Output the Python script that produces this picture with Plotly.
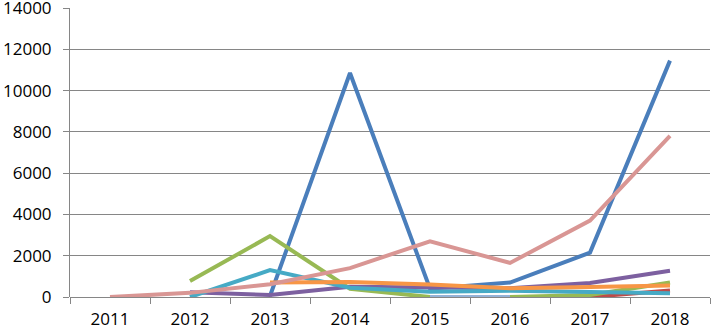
import plotly.graph_objects as go

years = [2011, 2012, 2013, 2014, 2015, 2016, 2017, 2018]
y_ticks = [0, 2000, 4000, 6000, 8000, 10000, 12000, 14000]

blue = [None, None, 50, 10850, 400, 700, 2150, 11450]
red = [None, None, None, None, None, 0, 0, 320]
green = [None, 770, 2950, 400, 0, 0, 100, 700]
purple = [None, 230, 100, 500, 450, 420, 680, 1270]
aqua = [None, 0, 1300, 450, 250, 300, 240, 180]
orange = [None, None, 700, 730, 600, 420, 480, 560]
lightblue = [None, None, None, None, 0, 0, None, None]
pink = [0, 200, 620, 1400, 2700, 1650, 3700, 7800]

series = [
    ("s1", blue, "#4A7EBB"),
    ("s2", red, "#BE4B48"),
    ("s3", green, "#98B954"),
    ("s4", purple, "#7D60A0"),
    ("s5", aqua, "#46AAC5"),
    ("s6", orange, "#F79646"),
    ("s7", lightblue, "#95B3D7"),
    ("s8", pink, "#D99694"),
]

fig = go.Figure()
for name, vals, col in series:
    fig.add_trace(go.Scatter(x=years, y=vals, mode="lines", name=name,
                             line=dict(color=col, width=4), connectgaps=False))

fig.update_layout(
    width=712, height=331,
    margin=dict(l=70, r=2, t=8, b=34),
    paper_bgcolor="white", plot_bgcolor="white",
    showlegend=False,
    font=dict(family="Open Sans", size=17, color="black"),
)
fig.update_xaxes(
    range=[2010.5, 2018.5], tickmode="array", tickvals=years,
    ticktext=[str(y) for y in years], ticks="", showgrid=False,
    showline=False, zeroline=False, automargin=False,
    ticklabeloverflow="allow", ticklabelstandoff=10,
    minor=dict(tickmode="array", tickvals=[2010.5 + i for i in range(9)],
               ticks="outside", ticklen=6, tickcolor="#868686", showgrid=False),
    tickfont=dict(size=17),
)
fig.update_yaxes(
    range=[0, 14000], tickmode="array", tickvals=y_ticks,
    ticktext=[str(v) for v in y_ticks], automargin=False,
    ticklabeloverflow="allow",
    showgrid=True, gridcolor="#868686", gridwidth=1,
    showline=True, linecolor="#868686", linewidth=1,
    ticks="outside", ticklen=6, tickcolor="#868686",
    zeroline=True, zerolinecolor="#868686", zerolinewidth=1,
    tickfont=dict(size=17), ticklabelstandoff=8,
)
fig.write_html("out.html", config={"displayModeBar": False},
               post_script="document.body.style.margin='0';")
